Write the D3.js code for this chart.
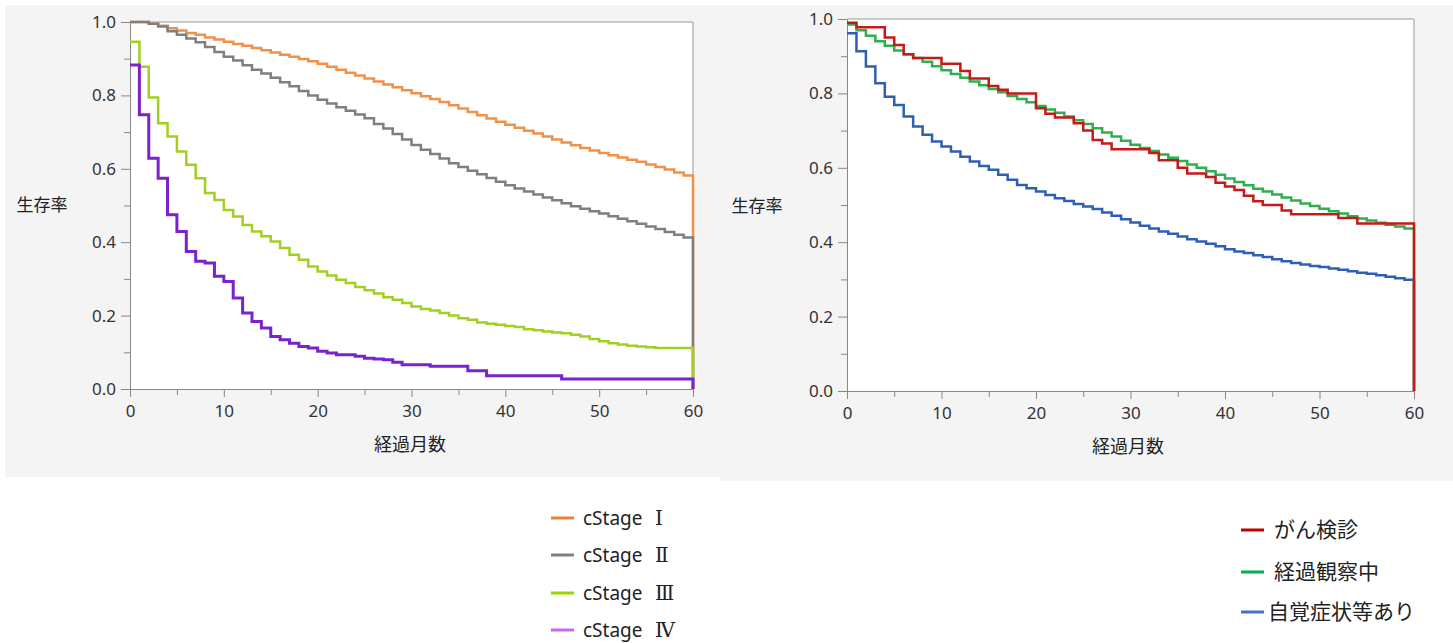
<!DOCTYPE html>
<html><head><meta charset="utf-8">
<script src="https://cdn.jsdelivr.net/npm/d3@7"></script>
<style>
html,body{margin:0;padding:0;background:#fff;}
svg{display:block;}
</style></head>
<body>
<svg id="c" width="1453" height="643"></svg>
<script>
// ---------- data (survival rate by month, 0..60) ----------
const months = d3.range(0, 61);
const xTicks = [0, 10, 20, 30, 40, 50, 60];
const yTicks = [0.0, 0.2, 0.4, 0.6, 0.8, 1.0];

const stageNames = ["cStage", "cStage", "cStage", "cStage"];
const stageNumerals = ["Ⅰ", "Ⅱ", "Ⅲ", "Ⅳ"];
const stage1 = [1.0,1.0,0.995,0.99,0.983,0.977,0.970,0.965,0.958,0.952,0.946,0.940,0.935,0.929,0.923,0.917,0.911,0.905,0.899,0.893,0.886,0.878,0.870,0.862,0.854,0.846,0.838,0.830,0.822,0.814,0.806,0.798,0.790,0.782,0.773,0.764,0.755,0.746,0.737,0.728,0.720,0.712,0.704,0.696,0.688,0.680,0.672,0.664,0.657,0.650,0.643,0.637,0.631,0.625,0.619,0.612,0.605,0.598,0.590,0.582,0.575];
const stage2 = [1.0,1.0,0.995,0.988,0.975,0.965,0.955,0.945,0.932,0.918,0.905,0.895,0.882,0.870,0.860,0.848,0.836,0.825,0.812,0.800,0.788,0.778,0.768,0.758,0.748,0.738,0.722,0.710,0.695,0.680,0.665,0.652,0.640,0.628,0.615,0.605,0.595,0.585,0.575,0.565,0.555,0.546,0.538,0.530,0.522,0.514,0.506,0.498,0.491,0.484,0.478,0.471,0.464,0.457,0.450,0.443,0.436,0.428,0.420,0.413,0.410];
const stage3 = [0.946,0.878,0.794,0.724,0.688,0.647,0.611,0.574,0.534,0.515,0.488,0.470,0.447,0.429,0.416,0.402,0.384,0.366,0.352,0.334,0.320,0.309,0.298,0.289,0.278,0.269,0.260,0.250,0.243,0.234,0.225,0.218,0.214,0.207,0.200,0.193,0.189,0.181,0.178,0.175,0.172,0.169,0.163,0.160,0.157,0.154,0.152,0.148,0.143,0.136,0.130,0.125,0.121,0.118,0.116,0.114,0.112,0.112,0.112,0.112,0.110];
const stage4 = [0.883,0.747,0.629,0.574,0.475,0.429,0.375,0.348,0.343,0.307,0.293,0.248,0.207,0.184,0.166,0.143,0.134,0.125,0.116,0.112,0.103,0.098,0.093,0.093,0.089,0.084,0.082,0.080,0.073,0.066,0.066,0.066,0.062,0.062,0.062,0.062,0.050,0.050,0.036,0.036,0.036,0.036,0.036,0.036,0.036,0.036,0.027,0.027,0.027,0.027,0.027,0.027,0.027,0.027,0.027,0.027,0.027,0.027,0.027,0.027,0.027];

const groupNames = ["がん検診", "経過観察中", "自覚症状等あり"];
const screening = [0.990,0.978,0.978,0.978,0.950,0.930,0.905,0.895,0.895,0.895,0.880,0.880,0.860,0.840,0.840,0.820,0.810,0.800,0.800,0.800,0.760,0.745,0.735,0.735,0.720,0.700,0.675,0.665,0.650,0.650,0.650,0.650,0.640,0.620,0.620,0.600,0.585,0.585,0.575,0.560,0.550,0.540,0.525,0.510,0.500,0.500,0.485,0.475,0.475,0.475,0.475,0.475,0.465,0.465,0.450,0.450,0.450,0.450,0.450,0.450,0.450];
const followup = [0.985,0.970,0.955,0.940,0.928,0.915,0.905,0.895,0.885,0.873,0.862,0.852,0.842,0.832,0.822,0.812,0.803,0.793,0.785,0.776,0.766,0.757,0.748,0.738,0.728,0.718,0.706,0.695,0.684,0.673,0.662,0.653,0.645,0.636,0.627,0.618,0.609,0.600,0.591,0.581,0.571,0.562,0.553,0.544,0.536,0.528,0.520,0.512,0.504,0.497,0.490,0.483,0.477,0.470,0.464,0.458,0.452,0.447,0.442,0.437,0.435];
const symptomatic = [0.962,0.913,0.872,0.827,0.791,0.769,0.738,0.711,0.689,0.671,0.657,0.644,0.630,0.617,0.605,0.595,0.581,0.568,0.554,0.545,0.536,0.527,0.518,0.511,0.503,0.496,0.489,0.480,0.471,0.462,0.453,0.444,0.437,0.429,0.423,0.415,0.408,0.402,0.396,0.389,0.381,0.375,0.371,0.365,0.360,0.354,0.349,0.344,0.340,0.336,0.333,0.329,0.326,0.322,0.318,0.315,0.311,0.307,0.303,0.299,0.300];

// ---------- drawing ----------
const svg = d3.select("#c");
const FONT = "'Noto Sans CJK JP','Noto Sans',sans-serif";
const TICKFONT = "'Noto Sans','DejaVu Sans',sans-serif";

function panel(opt) {
  const g = svg.append("g");
  g.append("rect").attr("x", opt.bg[0]).attr("y", opt.bg[1]).attr("width", opt.bg[2]).attr("height", opt.bg[3]).attr("fill", "#f4f4f4");
  const x = d3.scaleLinear().domain([0, 60]).range([opt.x0, opt.x1]);
  const y = d3.scaleLinear().domain([0, 1]).range([opt.y0, opt.y1]);
  g.append("rect").attr("x", opt.x0).attr("y", opt.y1).attr("width", opt.x1 - opt.x0).attr("height", opt.y0 - opt.y1).attr("fill", "#fff");

  // minor ticks
  const xMinor = d3.range(5, 60, 10);
  const yMinor = d3.range(0.1, 1.0, 0.2);
  g.append("g").attr("transform", `translate(0,${opt.y0})`)
    .call(d3.axisBottom(x).tickValues(xMinor).tickSize(6).tickFormat(""))
    .call(a => { a.select(".domain").remove(); a.selectAll("line").attr("stroke", "#888"); });
  g.append("g").attr("transform", `translate(${opt.x0},0)`)
    .call(d3.axisLeft(y).tickValues(yMinor).tickSize(6).tickFormat(""))
    .call(a => { a.select(".domain").remove(); a.selectAll("line").attr("stroke", "#888"); });

  // major axes
  g.append("g").attr("transform", `translate(0,${opt.y0})`)
    .call(d3.axisBottom(x).tickValues(xTicks).tickSize(8).tickPadding(8).tickSizeOuter(0))
    .call(a => {
      a.select(".domain").attr("stroke", "#888");
      a.selectAll("line").attr("stroke", "#888");
      a.selectAll("text").attr("font-family", TICKFONT).attr("font-size", 17).attr("fill", "#333");
    });
  g.append("g").attr("transform", `translate(${opt.x0},0)`)
    .call(d3.axisLeft(y).tickValues(yTicks).tickSize(9).tickPadding(5).tickSizeOuter(0).tickFormat(d3.format(".1f")))
    .call(a => {
      a.select(".domain").attr("stroke", "#888");
      a.selectAll("line").attr("stroke", "#888");
      a.selectAll("text").attr("font-family", TICKFONT).attr("font-size", 17).attr("fill", "#333");
    });
  // top/right frame
  g.append("path").attr("d", `M${opt.x0},${opt.y1}H${opt.x1}V${opt.y0}`).attr("fill", "none").attr("stroke", "#999").attr("stroke-width", 1);

  const line = d3.line().x(d => x(d[0])).y(d => y(d[1])).curve(d3.curveStepAfter);
  opt.series.forEach(s => {
    const pts = months.map((m, i) => [m, s.values[i]]);
    pts.push([60, 0]);
    g.append("path").attr("d", line(pts)).attr("fill", "none")
      .attr("stroke", s.color).attr("stroke-width", s.w || 2.5).attr("stroke-linejoin", "miter");
  });

  g.append("text").attr("x", opt.ylab[0]).attr("y", opt.ylab[1]).attr("text-anchor", "middle")
    .attr("dominant-baseline", "middle").attr("font-family", FONT).attr("font-size", 17).attr("fill", "#222").text("生存率");
  g.append("text").attr("x", opt.xlab[0]).attr("y", opt.xlab[1]).attr("text-anchor", "middle")
    .attr("dominant-baseline", "middle").attr("font-family", FONT).attr("font-size", 18).attr("fill", "#222").text("経過月数");

  // legend
  const lg = svg.append("g");
  opt.legend.items.forEach((it, i) => {
    const ly = opt.legend.y[i];
    lg.append("line").attr("x1", opt.legend.lx0).attr("x2", opt.legend.lx1).attr("y1", ly).attr("y2", ly)
      .attr("stroke", it.color).attr("stroke-width", 3);
    const t = lg.append("text").attr("x", opt.legend.tx[i]).attr("y", ly + opt.legend.dy)
      .attr("font-family", opt.legend.font).attr("font-size", opt.legend.size).attr("fill", "#222");
    t.append("tspan").text(it.name);
    if (it.num) {
      t.append("tspan").attr("x", opt.legend.numX).attr("y", ly + opt.legend.dy + 0.5)
        .attr("font-family", "'DejaVu Serif','Liberation Serif',serif").attr("font-size", 20).text(it.num);
    }
  });
}

panel({
  bg: [5, 5, 715, 472],
  x0: 130, x1: 693, y0: 389, y1: 22,
  ylab: [42, 206], xlab: [410, 446],
  series: [
    { values: stage1, color: "#f0914a" },
    { values: stage2, color: "#7f7f7f" },
    { values: stage3, color: "#a2cf22" },
    { values: stage4, color: "#7b22cc", w: 3 }
  ],
  legend: {
    lx0: 551, lx1: 574, y: [518, 555, 593, 630], tx: [583, 583, 583, 583], size: 19, numX: 655, dy: 6.5,
    font: "'Noto Sans','Noto Sans CJK JP',sans-serif",
    items: [
      { name: stageNames[0], num: stageNumerals[0], color: "#f07f3a" },
      { name: stageNames[1], num: stageNumerals[1], color: "#808080" },
      { name: stageNames[2], num: stageNumerals[2], color: "#99d400" },
      { name: stageNames[3], num: stageNumerals[3], color: "#cc66ee" }
    ]
  }
});

panel({
  bg: [720, 5, 733, 476],
  x0: 847, x1: 1414, y0: 391, y1: 19,
  ylab: [757, 207], xlab: [1128, 448],
  series: [
    { values: symptomatic, color: "#2f5fb3" },
    { values: followup, color: "#2eb04c" },
    { values: screening, color: "#c41a1a" }
  ],
  legend: {
    lx0: 1241, lx1: 1264, y: [530, 572, 612], tx: [1274, 1274, 1268], size: 21, dy: 7,
    font: "'Noto Sans CJK JP',sans-serif",
    items: [
      { name: groupNames[0], color: "#c00000" },
      { name: groupNames[1], color: "#00b050" },
      { name: groupNames[2], color: "#4472c4" }
    ]
  }
});
</script>
</body></html>
